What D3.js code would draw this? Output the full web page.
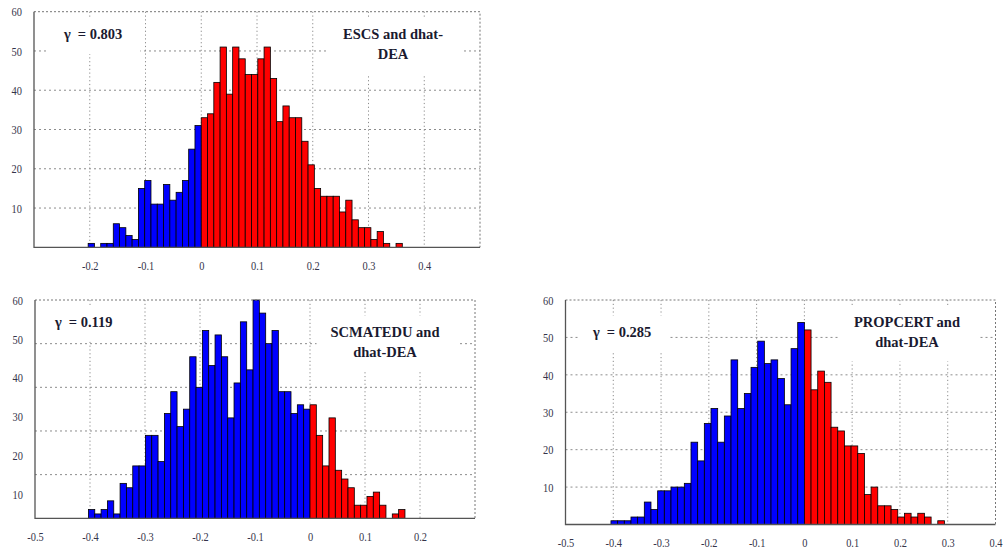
<!DOCTYPE html>
<html>
<head>
<meta charset="utf-8">
<script src="https://cdn.jsdelivr.net/npm/d3@7/dist/d3.min.js"></script>
<style>
  body { margin: 0; background: #fff; }
  svg { display: block; }
</style>
</head>
<body>
<div id="chart"></div>
<script>
// bin counts, left of zero (blue) and right of zero (red)
const escsNeg = [1, 0, 1, 1, 6, 5, 3, 2, 15, 17, 11, 11, 16, 12, 14, 17, 25, 31]
const escsPos = [33, 34, 42, 51, 39, 51, 48, 44, 44, 48, 51, 43, 32, 36, 33, 33, 27, 21, 15, 13, 13, 13, 9, 12, 7, 5, 5, 2, 4, 1, 0, 1]

const scmNeg = [2, 1, 2, 4, 1, 8, 7, 12, 12, 19, 19, 13, 24, 29, 21, 25, 37, 30, 43, 35, 42, 37, 23, 31, 45, 34, 50, 47, 40, 43, 29, 29, 24, 26, 25]
const scmPos = [26, 19, 12, 23, 11, 9, 7, 3, 3, 5, 6, 3, 0, 1, 2]

const propNeg = [1, 1, 1, 2, 2, 6, 4, 9, 9, 10, 10, 11, 22, 17, 27, 31, 22, 29, 44, 31, 35, 42, 49, 43, 44, 39, 32, 47, 54]
const propPos = [52, 36, 41, 38, 26, 25, 21, 21, 19, 8, 10, 5, 5, 4, 2, 3, 2, 3, 2, 0, 1]

const binWidths = [0.01127, 0.01151, 0.01396]
const xDomains = [[-0.3, 0.5], [-0.5, 0.3], [-0.5, 0.4]]
const xTickValues = [
  [-0.2, -0.1, 0, 0.1, 0.2, 0.3, 0.4],
  [-0.5, -0.4, -0.3, -0.2, -0.1, 0, 0.1, 0.2],
  [-0.5, -0.4, -0.3, -0.2, -0.1, 0, 0.1, 0.2, 0.3, 0.4]
]
const yMaxes = [60, 50, 60]
const yTickLabels = [10, 20, 30, 40, 50, 60]
const gammas = ['0.803', '0.119', '0.285']
const titles = [['ESCS and dhat-', 'DEA'], ['SCMATEDU and', 'dhat-DEA'], ['PROPCERT and', 'dhat-DEA']]

const width = 1006
const height = 551

// panel boxes on the page
const layout = [
  { left: 34, right: 480, top: 11.7, bottom: 247.3, labelBottom: 247.3, gammaAt: [64, 39], titleAt: [393, 39] },
  { left: 35, right: 475, top: 300, bottom: 518.3, labelBottom: 533.3, gammaAt: [55, 326.5], titleAt: [385, 336.5] },
  { left: 565.5, right: 995.5, top: 300, bottom: 524.5, labelBottom: 524.5, gammaAt: [593, 336.5], titleAt: [907, 326.5] }
]
const series = [[escsNeg, escsPos], [scmNeg, scmPos], [propNeg, propPos]]

const serif = '"Liberation Serif", "DejaVu Serif", serif'
const gridColor = '#8c8c8c'

// draw canvas
const wrapper = d3
  .select('#chart')
  .append('svg')
  .attr('width', width)
  .attr('height', height)

wrapper.append('rect').attr('width', width).attr('height', height).attr('fill', '#fff')

const toBins = (neg, pos, w) => [
  ...neg.map((c, i) => ({ x0: -(neg.length - i) * w, x1: -(neg.length - i - 1) * w, count: c, side: 'neg' })),
  ...pos.map((c, i) => ({ x0: i * w, x1: (i + 1) * w, count: c, side: 'pos' }))
]

const drawPanel = (k) => {
  const p = layout[k]
  const bins = toBins(series[k][0], series[k][1], binWidths[k])

  // draw scales
  const xScale = d3.scaleLinear().domain(xDomains[k]).range([p.left, p.right])
  const yScale = d3.scaleLinear().domain([0, yMaxes[k]]).range([p.bottom, p.top])
  const labelScale = d3.scaleLinear().domain([0, 60]).range([p.labelBottom, p.top])

  const bounds = wrapper.append('g')

  // gridlines
  const gx = xTickValues[k].filter((v) => v > xDomains[k][0] + 1e-9 && v < xDomains[k][1] - 1e-9)
  bounds
    .append('g')
    .selectAll('line')
    .data(gx)
    .join('line')
    .attr('x1', (d) => xScale(d))
    .attr('x2', (d) => xScale(d))
    .attr('y1', p.top)
    .attr('y2', p.bottom)
    .attr('stroke', gridColor)
    .attr('stroke-dasharray', '1.2,2.6')

  bounds
    .append('g')
    .selectAll('line')
    .data(d3.range(10, yMaxes[k], 10))
    .join('line')
    .attr('x1', p.left)
    .attr('x2', p.right)
    .attr('y1', (d) => yScale(d))
    .attr('y2', (d) => yScale(d))
    .attr('stroke', gridColor)
    .attr('stroke-dasharray', '2,3')

  // annotations on white boxes
  const note = bounds.append('g')
  const gText = note
    .append('text')
    .attr('x', p.gammaAt[0])
    .attr('y', p.gammaAt[1])
    .attr('font-family', serif)
    .attr('font-size', 14.5)
    .attr('font-weight', 'bold')
    .attr('fill', '#1a1a30')
  gText.append('tspan').text('γ')
  gText.append('tspan').attr('dx', 7).text(`= ${gammas[k]}`)

  const tText = note
    .append('text')
    .attr('font-family', serif)
    .attr('font-size', 14.5)
    .attr('font-weight', 'bold')
    .attr('fill', '#1a1a30')
    .attr('text-anchor', 'middle')
  titles[k].forEach((line, i) => {
    tText
      .append('tspan')
      .attr('x', p.titleAt[0])
      .attr('y', p.titleAt[1] + i * 20)
      .text(line)
  })

  ;[gText, tText].forEach((t) => {
    const b = t.node().getBBox()
    const y0 = Math.max(p.top + 4, b.y - 8)
    note
      .insert('rect', 'text')
      .attr('x', b.x - 14)
      .attr('y', y0)
      .attr('width', b.width + 32)
      .attr('height', b.y + b.height + 12 - y0)
      .attr('fill', '#fff')
  })

  // draw data
  bounds
    .append('g')
    .selectAll('rect')
    .data(bins.filter((d) => d.count > 0))
    .join('rect')
    .attr('x', (d) => xScale(d.x0))
    .attr('width', (d) => xScale(d.x1) - xScale(d.x0))
    .attr('y', (d) => yScale(d.count))
    .attr('height', (d) => p.bottom - yScale(d.count))
    .attr('fill', (d) => (d.side === 'neg' ? '#0000ff' : '#ff0000'))
    .attr('stroke', '#000')
    .attr('stroke-width', 0.8)

  // frame
  bounds
    .append('path')
    .attr('d', `M${p.left},${p.top}H${p.right}V${p.bottom}`)
    .attr('fill', 'none')
    .attr('stroke', '#777')
    .attr('stroke-dasharray', '2,2')
  bounds
    .append('path')
    .attr('d', `M${p.left},${p.top}V${p.bottom}H${p.right}`)
    .attr('fill', 'none')
    .attr('stroke', '#555')
    .attr('stroke-width', 1.3)

  // draw peripherals
  const xAxis = bounds
    .append('g')
    .attr('transform', `translate(0, ${p.bottom})`)
    .call(
      d3
        .axisBottom(xScale)
        .tickValues(xTickValues[k])
        .tickSize(0)
        .tickPadding(13)
        .tickFormat((d) => String(+d.toFixed(1)))
    )
  xAxis.select('.domain').remove()

  const yAxis = bounds
    .append('g')
    .attr('transform', `translate(${p.left}, 0)`)
    .call(d3.axisLeft(labelScale).tickValues(yTickLabels).tickSize(0).tickPadding(15))
  yAxis.select('.domain').remove()

  ;[xAxis, yAxis].forEach((a) => {
    a.attr('font-family', serif).attr('font-size', 13)
    a.selectAll('text').attr('fill', '#34344a').attr('transform', 'scale(0.8,1)')
  })
}

layout.forEach((p, k) => drawPanel(k))
</script>
</body>
</html>
